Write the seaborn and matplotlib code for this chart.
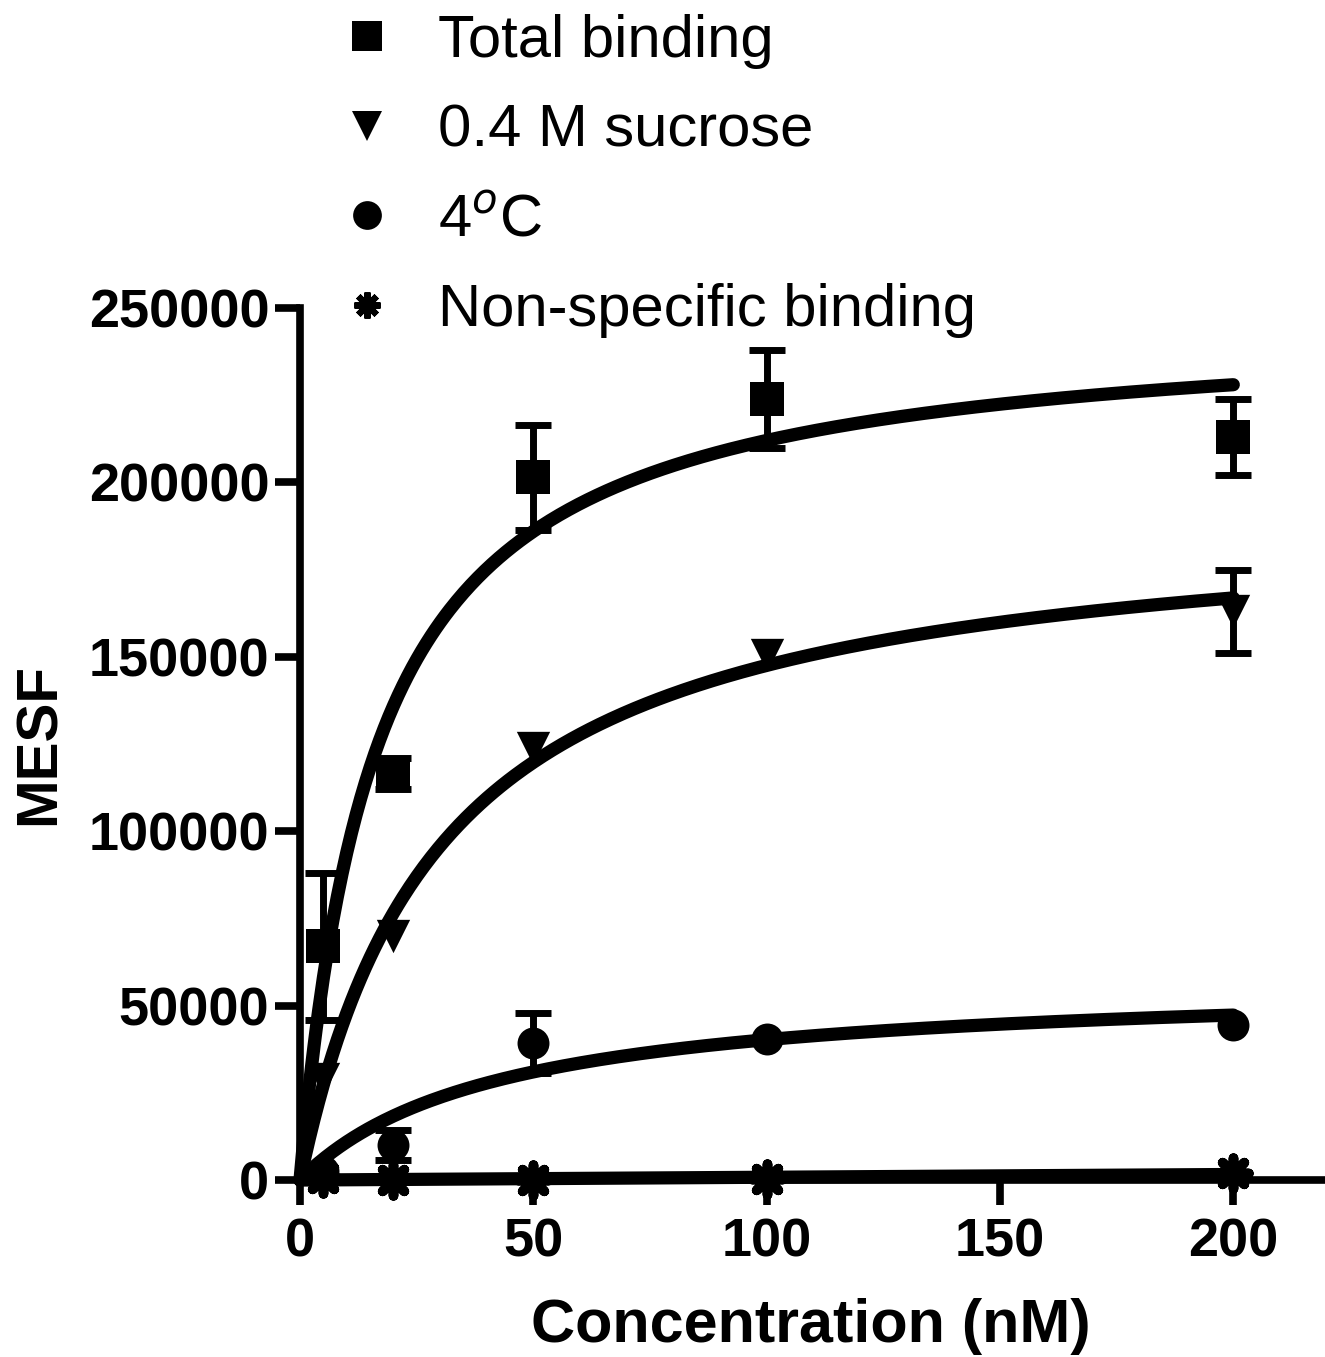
import numpy as np
import pandas as pd
import matplotlib
matplotlib.use('Agg')
import matplotlib.pyplot as plt
from matplotlib import font_manager
from matplotlib.lines import Line2D
import seaborn as sns

# data (mean, SD)
conc = [5, 20, 50, 100, 200]

total_mean = [67000, 116500, 201500, 224000, 213000]
total_err = [21000, 4500, 15000, 14000, 11000]

sucrose_mean = [29000, 70000, 124000, 150500, 163000]
sucrose_err = [0, 0, 0, 0, 12000]

cold_mean = [2500, 10000, 39300, 40500, 44500]
cold_err = [0, 4300, 8700, 0, 0]

nsb_mean = [500, 0, 0, 300, 2000]
nsb_err = [0, 0, 0, 0, 0]

# one-site binding fits (Bmax, Kd)
total_fit = (246600, 16.3)
sucrose_fit = (192100, 30.2)
cold_fit = (57350, 42.5)
nsb_slope = 8.0

labels = ['Total binding', '0.4 M sucrose', '4$^{o}$C', 'Non-specific binding']

sns.set_theme(style='ticks')
plt.rcParams['font.family'] = ['Liberation Sans', 'DejaVu Sans']
plt.rcParams['text.color'] = 'black'
plt.rcParams['axes.labelcolor'] = 'black'

try:
    font_manager.findfont('Liberation Sans Narrow', fallback_to_default=False)
    narrow = 'Liberation Sans Narrow'
except Exception:
    narrow = 'Liberation Sans'

fig = plt.figure(figsize=(13.25, 13.57), dpi=100)
ax = fig.add_axes([0.2264, 0.1304, 0.7713, 0.6426])

series = [
    (total_mean, total_err, 's', 24, labels[0]),
    (sucrose_mean, sucrose_err, 'v', 24, labels[1]),
    (cold_mean, cold_err, 'o', 23, labels[2]),
    (nsb_mean, nsb_err, (8, 2, 0), 22, labels[3]),
]

xfit = np.linspace(0, 200, 400)
fits = pd.DataFrame({
    'x': np.tile(xfit, 4),
    'y': np.concatenate([
        total_fit[0] * xfit / (total_fit[1] + xfit),
        sucrose_fit[0] * xfit / (sucrose_fit[1] + xfit),
        cold_fit[0] * xfit / (cold_fit[1] + xfit),
        nsb_slope * xfit,
    ]),
    'cond': np.repeat(labels, len(xfit)),
})

handles = []
for mean, err, mk, ms, lab in series:
    df = pd.DataFrame({'x': conc, 'y': mean, 'err': err})
    eb = df[df['err'] > 0]
    if len(eb):
        ax.errorbar(eb['x'], eb['y'], yerr=eb['err'], fmt='none', ecolor='black',
                    elinewidth=5, capsize=13, capthick=5, clip_on=False, zorder=2)
    if mk == (8, 2, 0):
        sns.scatterplot(data=df, x='x', y='y', marker=mk, s=ms ** 2, color='black',
                        linewidth=7, ax=ax, clip_on=False, zorder=3, legend=False)
        handles.append(Line2D([], [], ls='none', marker=mk, markersize=ms * 0.85,
                              mew=4.5, color='black'))
    else:
        sns.scatterplot(data=df, x='x', y='y', marker=mk, s=ms ** 2, color='black',
                        edgecolor='black', linewidth=0, ax=ax, clip_on=False,
                        zorder=3, legend=False)
        handles.append(Line2D([], [], ls='none', marker=mk, markersize=ms * 0.9,
                              mew=0, color='black'))

sns.lineplot(data=fits, x='x', y='y', units='cond', estimator=None, color='black',
             linewidth=9.5, ax=ax, legend=False, zorder=4, clip_on=False)

ax.set_xlim(0, 219)
ax.set_ylim(0, 250000)
ax.set_xticks([0, 50, 100, 150, 200])
ax.set_yticks([0, 50000, 100000, 150000, 200000, 250000])
ax.set_yticklabels([str(v) for v in [0, 50000, 100000, 150000, 200000, 250000]])

for side in ['top', 'right']:
    ax.spines[side].set_visible(False)
for side in ['left', 'bottom']:
    ax.spines[side].set_linewidth(5.5)
    ax.spines[side].set_color('black')

ax.tick_params(axis='both', length=18, width=5.5, colors='black', labelsize=39)
ax.tick_params(axis='x', pad=9)
ax.tick_params(axis='y', pad=4)
for t in ax.get_xticklabels() + ax.get_yticklabels():
    t.set_fontweight('bold')

ax.set_xlabel('Concentration (nM)', fontsize=44, fontweight='bold', labelpad=22,
              color='black')
ax.set_ylabel('MESF', fontsize=42, fontweight='bold', labelpad=16, color='black',
              family=[narrow, 'DejaVu Sans'])

fig.legend(handles, labels, loc='upper left', bbox_to_anchor=(338 / 1325, 1 - 14 / 1357),
           frameon=False, fontsize=43, handlelength=0.98, handletextpad=0.7,
           labelspacing=0.58, borderpad=0, borderaxespad=0, labelcolor='black')

fig.savefig('out.png', dpi=100, facecolor='white')
